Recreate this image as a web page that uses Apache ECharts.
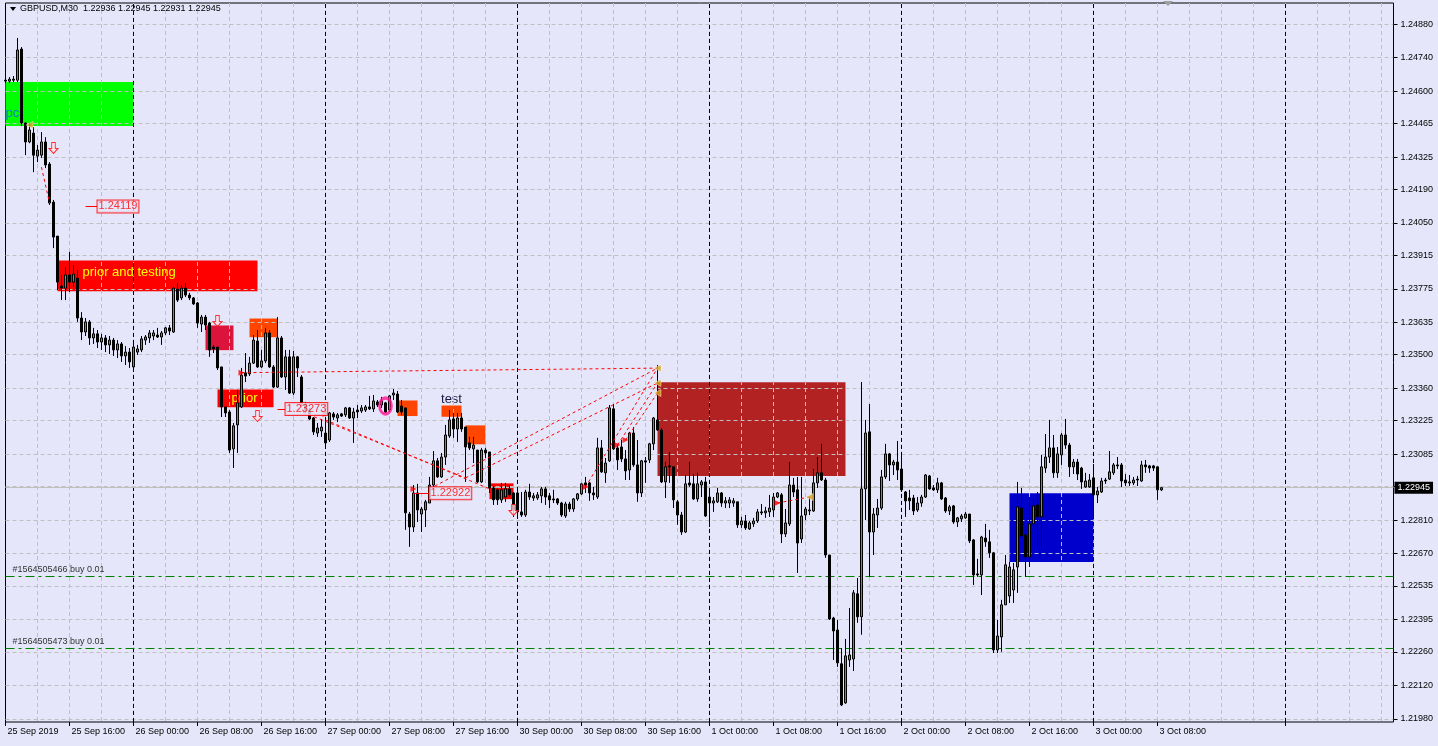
<!DOCTYPE html>
<html><head><meta charset="utf-8">
<script src="https://cdn.jsdelivr.net/npm/echarts@6/dist/echarts.min.js"></script>
<style>html,body{margin:0;padding:0;background:#E6E6FA;}#c{width:1438px;height:746px;}</style>
</head><body><div id="c"></div>
<script>
// ---------- data (GBPUSD M30, 25 Sep 08:00 .. 3 Oct 08:30) ----------
const opens = [
1.24646,1.24642,1.24650,1.24646,1.24776,1.24467,1.24388,1.24425,1.24329,1.24333,
1.24388,1.24296,1.24137,1.23995,1.23787,1.23778,1.23833,1.23803,1.23820,1.23653,
1.23595,1.23637,1.23570,1.23587,1.23553,1.23570,1.23541,1.23561,1.23520,1.23545,
1.23495,1.23511,1.23449,1.23511,1.23520,1.23561,1.23570,1.23578,1.23582,1.23574,
1.23591,1.23612,1.23595,1.23774,1.23737,1.23778,1.23749,1.23737,1.23716,1.23628,
1.23657,1.23632,1.23532,1.23532,1.23449,1.23282,1.23261,1.23107,1.23207,1.23282,
1.23424,1.23420,1.23465,1.23557,1.23449,1.23474,1.23591,1.23449,1.23365,1.23570,
1.23407,1.23491,1.23340,1.23491,1.23407,1.23294,1.23269,1.23236,1.23173,1.23182,
1.23173,1.23144,1.23253,1.23236,1.23253,1.23249,1.23278,1.23236,1.23269,1.23265,
1.23269,1.23282,1.23274,1.23303,1.23290,1.23299,1.23269,1.23332,1.23336,1.23286,
1.23278,1.22835,1.22781,1.22923,1.22835,1.22852,1.22881,1.22956,1.23057,1.22990,
1.23073,1.23161,1.23232,1.23190,1.23236,1.23198,1.23132,1.23107,1.23102,1.22969,
1.23102,1.23094,1.22944,1.22936,1.22894,1.22906,1.22940,1.22923,1.22923,1.22844,
1.22831,1.22927,1.22902,1.22902,1.22911,1.22940,1.22911,1.22898,1.22898,1.22881,
1.22827,1.22877,1.22856,1.22898,1.22919,1.22965,1.22965,1.22923,1.22906,1.23111,
1.23007,1.23057,1.23274,1.23111,1.23115,1.23065,1.23019,1.23173,1.23040,1.22923,
1.23057,1.23061,1.23128,1.23228,1.23186,1.22969,1.23036,1.23032,1.22886,1.22831,
1.22760,1.22965,1.22961,1.22898,1.22956,1.22969,1.22906,1.22881,1.22886,1.22923,
1.22881,1.22881,1.22881,1.22886,1.22790,1.22806,1.22773,1.22794,1.22806,1.22844,
1.22840,1.22844,1.22852,1.22906,1.22915,1.22752,1.22794,1.22956,1.22936,1.22731,
1.22831,1.22848,1.22848,1.22965,1.23007,1.22977,1.22664,1.22401,1.22351,1.22210,
1.22047,1.22226,1.22230,1.22502,1.22406,1.22940,1.23178,1.22760,1.22831,1.22860,
1.22990,1.23086,1.23040,1.23052,1.23023,1.22927,1.22902,1.22902,1.22852,1.22881,
1.22906,1.22994,1.22944,1.22936,1.22965,1.22902,1.22848,1.22869,1.22802,1.22815,
1.22819,1.22835,1.22727,1.22585,1.22581,1.22735,1.22719,1.22673,1.22268,1.22322,
1.22456,1.22493,1.22518,1.22614,1.22860,1.22748,1.22656,1.22794,1.22873,1.22823,
1.23027,1.23073,1.23111,1.23007,1.23082,1.23165,1.23123,1.23032,1.23052,1.23027,
1.22948,1.22948,1.22986,1.22915,1.22927,1.22977,1.22981,1.23007,1.23040,1.23040,
1.22977,1.22965,1.22965,1.22981,1.22973,1.23040,1.23036,1.23036,1.23032,1.22936];
const closes = [
1.24642,1.24650,1.24646,1.24772,1.24467,1.24388,1.24438,1.24333,1.24354,1.24388,
1.24292,1.24133,1.23991,1.23803,1.23778,1.23833,1.23803,1.23837,1.23653,1.23595,
1.23637,1.23570,1.23587,1.23553,1.23570,1.23541,1.23561,1.23520,1.23545,1.23495,
1.23511,1.23470,1.23532,1.23524,1.23566,1.23574,1.23591,1.23591,1.23574,1.23591,
1.23612,1.23599,1.23778,1.23728,1.23778,1.23749,1.23737,1.23712,1.23632,1.23657,
1.23624,1.23520,1.23524,1.23445,1.23282,1.23257,1.23102,1.23203,1.23299,1.23415,
1.23411,1.23465,1.23561,1.23449,1.23474,1.23591,1.23449,1.23365,1.23570,1.23407,
1.23491,1.23340,1.23491,1.23445,1.23299,1.23269,1.23232,1.23178,1.23194,1.23198,
1.23132,1.23257,1.23240,1.23249,1.23244,1.23278,1.23236,1.23261,1.23261,1.23278,
1.23282,1.23274,1.23307,1.23290,1.23307,1.23261,1.23328,1.23340,1.23261,1.23261,
1.22840,1.22781,1.22923,1.22852,1.22856,1.22886,1.22956,1.23057,1.22990,1.23073,
1.23165,1.23228,1.23190,1.23236,1.23190,1.23115,1.23111,1.23123,1.22969,1.23102,
1.23090,1.22944,1.22894,1.22894,1.22936,1.22940,1.22915,1.22852,1.22844,1.22831,
1.22927,1.22906,1.22911,1.22915,1.22940,1.22906,1.22894,1.22894,1.22881,1.22831,
1.22877,1.22856,1.22898,1.22919,1.22961,1.22956,1.22923,1.22915,1.23111,1.23011,
1.23048,1.23278,1.23107,1.23061,1.23065,1.23015,1.23173,1.23040,1.22923,1.23057,
1.23052,1.23128,1.23236,1.23186,1.22969,1.23032,1.23032,1.22894,1.22831,1.22760,
1.22961,1.22956,1.22898,1.22961,1.22969,1.22827,1.22881,1.22890,1.22923,1.22881,
1.22890,1.22894,1.22890,1.22790,1.22806,1.22777,1.22798,1.22806,1.22844,1.22840,
1.22848,1.22860,1.22906,1.22923,1.22752,1.22798,1.22956,1.22927,1.22714,1.22827,
1.22856,1.22852,1.22965,1.23007,1.22977,1.22664,1.22397,1.22347,1.22214,1.22038,
1.22243,1.22247,1.22506,1.22406,1.22940,1.23173,1.22760,1.22835,1.22860,1.22990,
1.23086,1.23040,1.23052,1.23019,1.22936,1.22890,1.22890,1.22848,1.22881,1.22906,
1.22998,1.22940,1.22936,1.22965,1.22898,1.22848,1.22865,1.22802,1.22819,1.22827,
1.22835,1.22723,1.22581,1.22581,1.22739,1.22719,1.22673,1.22268,1.22326,1.22456,
1.22623,1.22614,1.22602,1.22865,1.22744,1.22656,1.22794,1.22869,1.22823,1.23032,
1.23073,1.23111,1.23007,1.23086,1.23165,1.23123,1.23032,1.23052,1.23002,1.22969,
1.22973,1.22977,1.22915,1.22931,1.22973,1.22973,1.23011,1.23040,1.23036,1.22973,
1.22965,1.22969,1.22977,1.22977,1.23040,1.23032,1.23027,1.23027,1.22936,1.22945];
const lows = [
1.24634,1.24634,1.24638,1.24638,1.24454,1.24333,1.24383,1.24262,1.24304,1.24321,
1.24279,1.24125,1.23945,1.23770,1.23728,1.23728,1.23762,1.23783,1.23637,1.23561,
1.23578,1.23541,1.23545,1.23528,1.23520,1.23511,1.23503,1.23495,1.23486,1.23470,
1.23457,1.23445,1.23436,1.23499,1.23511,1.23541,1.23549,1.23561,1.23570,1.23541,
1.23582,1.23582,1.23591,1.23720,1.23728,1.23741,1.23728,1.23708,1.23612,1.23595,
1.23603,1.23491,1.23507,1.23436,1.23240,1.23240,1.23090,1.23027,1.23090,1.23278,
1.23386,1.23411,1.23461,1.23445,1.23445,1.23465,1.23445,1.23361,1.23361,1.23403,
1.23353,1.23336,1.23332,1.23407,1.23282,1.23257,1.23228,1.23165,1.23157,1.23157,
1.23123,1.23136,1.23228,1.23219,1.23240,1.23240,1.23232,1.23132,1.23236,1.23257,
1.23261,1.23269,1.23261,1.23282,1.23278,1.23257,1.23261,1.23311,1.23257,1.23249,
1.22769,1.22698,1.22760,1.22802,1.22760,1.22781,1.22881,1.22948,1.22986,1.22986,
1.23040,1.23153,1.23153,1.23136,1.23178,1.22969,1.23102,1.23048,1.22965,1.22965,
1.23069,1.22923,1.22873,1.22873,1.22881,1.22886,1.22906,1.22823,1.22823,1.22823,
1.22823,1.22894,1.22890,1.22894,1.22881,1.22873,1.22860,1.22881,1.22873,1.22823,
1.22819,1.22844,1.22844,1.22890,1.22915,1.22923,1.22890,1.22894,1.22898,1.23007,
1.22965,1.23052,1.23102,1.23019,1.23052,1.22977,1.22977,1.23032,1.22886,1.22906,
1.22965,1.23048,1.23102,1.23182,1.22965,1.22902,1.22965,1.22860,1.22790,1.22748,
1.22756,1.22948,1.22894,1.22886,1.22906,1.22823,1.22781,1.22844,1.22881,1.22865,
1.22860,1.22860,1.22865,1.22777,1.22777,1.22769,1.22769,1.22781,1.22798,1.22831,
1.22819,1.22823,1.22823,1.22902,1.22714,1.22739,1.22785,1.22906,1.22589,1.22714,
1.22810,1.22831,1.22844,1.22944,1.22973,1.22652,1.22393,1.22226,1.22197,1.22034,
1.22043,1.22197,1.22180,1.22381,1.22331,1.22810,1.22573,1.22664,1.22777,1.22852,
1.22981,1.22973,1.22998,1.22977,1.22927,1.22823,1.22852,1.22831,1.22844,1.22865,
1.22902,1.22936,1.22931,1.22923,1.22894,1.22840,1.22831,1.22794,1.22781,1.22802,
1.22815,1.22714,1.22539,1.22573,1.22497,1.22698,1.22652,1.22255,1.22255,1.22260,
1.22456,1.22464,1.22464,1.22506,1.22735,1.22573,1.22614,1.22777,1.22698,1.22698,
1.23007,1.23048,1.22986,1.22986,1.23040,1.23107,1.22990,1.23002,1.22977,1.22940,
1.22944,1.22944,1.22831,1.22881,1.22923,1.22961,1.22977,1.22998,1.23023,1.22948,
1.22952,1.22952,1.22956,1.22952,1.22969,1.23007,1.23007,1.23015,1.22894,1.22931];
const highs = [
1.24659,1.24659,1.24663,1.24822,1.24784,1.24471,1.24467,1.24450,1.24375,1.24429,
1.24408,1.24304,1.24146,1.23995,1.23833,1.23866,1.23929,1.23874,1.23854,1.23678,
1.23653,1.23645,1.23612,1.23603,1.23587,1.23582,1.23578,1.23570,1.23561,1.23553,
1.23536,1.23528,1.23545,1.23541,1.23578,1.23582,1.23603,1.23603,1.23612,1.23599,
1.23616,1.23624,1.23783,1.23799,1.23791,1.23799,1.23758,1.23741,1.23720,1.23666,
1.23666,1.23637,1.23541,1.23532,1.23449,1.23282,1.23269,1.23215,1.23353,1.23445,
1.23507,1.23491,1.23582,1.23603,1.23520,1.23612,1.23603,1.23457,1.23657,1.23578,
1.23520,1.23520,1.23516,1.23495,1.23415,1.23303,1.23278,1.23240,1.23215,1.23232,
1.23228,1.23261,1.23261,1.23257,1.23257,1.23282,1.23282,1.23278,1.23290,1.23290,
1.23290,1.23328,1.23332,1.23311,1.23324,1.23303,1.23332,1.23357,1.23349,1.23311,
1.23278,1.22844,1.22956,1.22961,1.22865,1.22894,1.22990,1.23098,1.23069,1.23090,
1.23207,1.23269,1.23257,1.23257,1.23257,1.23198,1.23157,1.23157,1.23102,1.23111,
1.23111,1.23094,1.22952,1.22944,1.22965,1.22965,1.22956,1.22927,1.22948,1.22927,
1.22936,1.22961,1.22923,1.22927,1.22948,1.22948,1.22923,1.22936,1.22902,1.22886,
1.22886,1.22886,1.22902,1.22923,1.22965,1.22990,1.22969,1.22948,1.23153,1.23144,
1.23069,1.23290,1.23294,1.23123,1.23144,1.23102,1.23178,1.23198,1.23144,1.23061,
1.23073,1.23132,1.23240,1.23457,1.23194,1.23052,1.23094,1.23032,1.22894,1.22844,
1.22998,1.23052,1.23002,1.23007,1.22977,1.22990,1.22944,1.22906,1.22944,1.22927,
1.22906,1.22906,1.22902,1.22886,1.22823,1.22831,1.22806,1.22819,1.22856,1.22877,
1.22865,1.22915,1.22923,1.22927,1.22923,1.22856,1.23052,1.22986,1.22990,1.22990,
1.22865,1.22906,1.23023,1.23073,1.23128,1.22986,1.22664,1.22406,1.22393,1.22276,
1.22314,1.22443,1.22518,1.22568,1.23386,1.23228,1.23294,1.22860,1.22898,1.23019,
1.23128,1.23090,1.23061,1.23140,1.23090,1.22931,1.22936,1.22915,1.22906,1.22915,
1.23002,1.22998,1.22956,1.22986,1.22969,1.22906,1.22873,1.22873,1.22823,1.22835,
1.22844,1.22835,1.22731,1.22648,1.22744,1.22794,1.22769,1.22677,1.22393,1.22477,
1.22664,1.22635,1.22631,1.22969,1.22944,1.22785,1.22906,1.22902,1.22927,1.23082,
1.23169,1.23228,1.23165,1.23115,1.23173,1.23232,1.23132,1.23065,1.23065,1.23032,
1.23007,1.23002,1.23044,1.22948,1.22986,1.22986,1.23098,1.23048,1.23073,1.23048,
1.23002,1.22998,1.22990,1.22994,1.23057,1.23061,1.23040,1.23040,1.23032,1.22945];

// price-axis tick labels
const yTicks = [1.21980,1.22120,1.22260,1.22395,1.22535,1.22670,1.22810,1.22950,1.23085,1.23225,1.23360,
                1.23500,1.23635,1.23775,1.23915,1.24050,1.24190,1.24325,1.24465,1.24600,1.24740,1.24880];
const yRange = [1.21967, 1.24968];

// time categories (weekend removed)
const dayNames = ['25 Sep','26 Sep','27 Sep','30 Sep','1 Oct','2 Oct','3 Oct','4 Oct'];
const totalSlots = 348;
const cats = [];
(function(){
  for (let d = 0; d < dayNames.length; d++) {
    for (let s = (d === 0 ? 16 : 0); s < 48; s++) {
      if (cats.length >= totalSlots) return;
      cats.push(dayNames[d] + ' ' + String(Math.floor(s / 2)).padStart(2, '0') + ':' + (s % 2 ? '30' : '00'));
    }
  }
})();

// chart objects (bar index, price)
const daySeparators = [32, 80, 128, 176, 224, 272, 320];
const zones = [      // [fromBar, toBar, topPrice, bottomPrice]
  [0, 32, 1.24638, 1.24455],
  [13, 63, 1.23893, 1.23765],
  [50, 57, 1.23622, 1.23519],
  [61, 68, 1.23651, 1.23573],
  [53, 67, 1.23355, 1.23281],
  [98, 103, 1.23309, 1.23244],
  [109, 114, 1.23288, 1.23241],
  [115, 120, 1.23205, 1.23126],
  [121, 127, 1.22963, 1.22897],
  [163, 210, 1.23385, 1.22994],
  [251, 272, 1.22922, 1.22635]
];
const zoneTexts = ['', 'prior and testing', '', '', 'prior', '', 'test', '', '', '', ''];
const buyOrders = [['#1564505466 buy 0.01', 1.22577], ['#1564505473 buy 0.01', 1.22275]];
const lastPrice = 1.22945;
const trendLines = [ // [fromBar, fromPrice, toBar, toPrice]
  [9, 1.24283, 11, 1.24133],
  [59, 1.23425, 163, 1.23444],
  [73, 1.23269, 115, 1.22986],
  [80, 1.23228, 121, 1.22940],
  [106, 1.22940, 163, 1.23444],
  [115, 1.22986, 163, 1.23382],
  [145, 1.22948, 163, 1.23444],
  [153, 1.23123, 163, 1.23382],
  [155, 1.23144, 163, 1.23340],
  [193, 1.22881, 201, 1.22906]
];
const priceTags = [[23, 1.24119, 20], [70, 1.23273, 68], [106, 1.22922, 102]]; // [bar, price, lineStartBar]
const downArrows = [[12, 1.24363], [53, 1.23641], [63, 1.23244], [127, 1.22852]];
const goldMarks = [[163, 1.23444], [163, 1.23382], [163, 1.23340], [6, 1.24459], [201, 1.22906]];
const redArrows = [[59, 1.23425], [80, 1.23253], [102, 1.22940], [145, 1.22948], [153, 1.23123], [155, 1.23144], [193, 1.22881]];
const ringMarks = [[95, 1.23286]];
const textMarks = [[0, 1.24509, 'pc']];
const titleText = 'GBPUSD,M30  1.22936 1.22945 1.22931 1.22945';

// ---------- styles ----------
const FONT = 'Liberation Sans';
const zoneColors = ['#00FF00','#FF0000','#DC143C','#FF4500','#FF0000','#FF4500','#FF4500','#FF4500','#FF0000','#B22222','#0000CD'];
const zoneLabelStyle = {
  'prior and testing': {position: 'insideLeft', distance: 25, offset: [0, -3], color: '#FFFF00', fontSize: 13},
  'prior': {position: 'insideLeft', distance: 14, color: '#FFFF00', fontSize: 13},
  'test': {position: 'top', distance: 0, color: '#1A1A40', fontSize: 13}
};

const candleData = opens.map((o, i) => [o, closes[i], lows[i], highs[i]]);

const chart = echarts.init(document.getElementById('c'), null, {renderer: 'canvas'});
chart.setOption({
  animation: false,
  backgroundColor: '#E6E6FA',
  grid: {left: 5.5, top: 3, width: 1388, height: 719, show: true, borderColor: '#000', borderWidth: 1, backgroundColor: '#E6E6FA'},
  graphic: [
    {type: 'polygon', shape: {points: [[10, 7], [16, 7], [13, 11]]}, style: {fill: '#000'}, z: 10},
    {type: 'text', left: 20, top: 4, z: 10, style: {text: titleText, font: '9px "' + FONT + '"', fill: '#000'}},
    {type: 'polygon', shape: {points: [[1163, 1], [1173, 1], [1168, 6]]}, style: {fill: '#A0A0A0'}, z: 10}
  ],
  xAxis: {
    type: 'category', data: cats, boundaryGap: false, z: 1,
    axisLine: {show: false},
    axisTick: {show: true, interval: (i) => i % 16 === 0 && (i <= 288 || i === 320), length: 4, lineStyle: {color: '#000'}},
    axisLabel: {show: true, interval: (i) => i % 16 === 0 && i <= 288, formatter: (v, i) => i === 0 ? '25 Sep 2019' : v,
      align: 'left', margin: 5, fontSize: 9, fontFamily: FONT, color: '#000', padding: [0, 0, 0, 2]},
    splitLine: {show: true, interval: (i) => i % 8 === 0 && i > 0, lineStyle: {color: '#C0C0C0', type: [4, 3], width: 1}}
  },
  yAxis: {
    type: 'value', position: 'right', min: yRange[0], max: yRange[1], z: 1,
    axisLine: {show: false},
    axisTick: {show: true, customValues: yTicks, length: 4, lineStyle: {color: '#000'}},
    axisLabel: {customValues: yTicks, formatter: (v) => v.toFixed(5), margin: 7, fontSize: 9, fontFamily: FONT, color: '#000'},
    splitLine: {show: true, lineStyle: {color: '#C0C0C0', type: [4, 3], width: 1}}
  },
  series: [
    {
      type: 'candlestick', name: 'GBPUSD', data: candleData, barWidth: 2, z: 2, clip: false,
      itemStyle: {color: '#808080', color0: '#000000', borderColor: '#000000', borderColor0: '#000000', borderWidth: 1},
      markArea: {
        silent: true, z: 0.5,
        data: zones.map((zn, k) => {
          const t = zoneTexts[k];
          const lab = t ? Object.assign({show: true, formatter: t, fontFamily: FONT}, zoneLabelStyle[t]) : {show: false};
          return [{coord: [zn[0], zn[2]], itemStyle: {color: zoneColors[k], opacity: 1}, label: lab}, {coord: [zn[1], zn[3]]}];
        })
      },
      markLine: {
        silent: true, z: 1.5, symbol: ['none', 'none'], animation: false, precision: 5,
        data: [].concat(
          daySeparators.map(d => ({xAxis: cats[d], lineStyle: {color: '#000', type: [4, 3], width: 1}, label: {show: false}})),
          buyOrders.map(b => ({yAxis: b[1], lineStyle: {color: '#008000', type: [9, 4, 3, 4], width: 1},
            label: {show: true, position: 'insideStartTop', formatter: b[0], color: '#333', fontSize: 9, fontFamily: FONT, distance: [7, 2]}})),
          [{yAxis: lastPrice, lineStyle: {color: '#C0C0C0', type: 'solid', width: 1},
            label: {show: true, position: 'end', formatter: lastPrice.toFixed(5), color: '#fff', backgroundColor: '#000',
              padding: [2, 3, 1, 3], fontSize: 9, fontFamily: FONT, distance: 1}}]
        )
      }
    },
    {
      type: 'line', name: 'objects', data: [], z: 5,
      markLine: {
        silent: true, z: 5, symbol: ['none', 'none'], animation: false, precision: 5, label: {show: false},
        data: [].concat(
          trendLines.map(t => [{coord: [t[0], t[1]], lineStyle: {color: '#FF0000', type: [3, 3], width: 1}}, {coord: [t[2], t[3]]}]),
          priceTags.map(t => [{coord: [t[2], t[1]], lineStyle: {color: '#FF0000', type: 'solid', width: 1}}, {coord: [t[0], t[1]]}])
        )
      }
    },
    {
      type: 'scatter', name: 'tags', z: 6, symbolSize: 0, silent: true, data: priceTags.map(t => [t[0], t[1]]),
      label: {show: true, position: 'right', distance: 0, formatter: p => p.value[1].toFixed(5), color: '#FF0000', fontSize: 11,
        fontFamily: FONT, borderColor: '#FF0000', borderWidth: 1, padding: [1, 1, 0, 1], backgroundColor: '#E6E6FA'}
    },
    {
      type: 'scatter', name: 'down', z: 6, silent: true, data: downArrows,
      symbol: 'path://M3,0 L7,0 L7,6 L10,6 L5,11 L0,6 L3,6 Z', symbolSize: [9, 11],
      itemStyle: {color: '#FFE4EC', borderColor: '#FF0000', borderWidth: 1}
    },
    {type: 'scatter', name: 'gold', z: 6, silent: true, data: goldMarks, symbol: 'triangle', symbolRotate: 90, symbolSize: 7,
      itemStyle: {color: '#DAA520', borderColor: '#FFFFFF', borderWidth: 0.5}},
    {type: 'scatter', name: 'red', z: 6, silent: true, data: redArrows, symbol: 'triangle', symbolRotate: -90, symbolSize: 6,
      itemStyle: {color: '#FF0000'}},
    {type: 'scatter', name: 'ring', z: 6, silent: true, data: ringMarks, symbol: 'circle', symbolSize: [12, 16],
      itemStyle: {color: 'rgba(0,0,0,0)', borderColor: '#FF1493', borderWidth: 3}},
    {type: 'scatter', name: 'text', z: 6, silent: true, symbolSize: 0, data: textMarks.map(t => [t[0], t[1]]),
      label: {show: true, position: 'right', distance: 0, formatter: p => textMarks[p.dataIndex][2], color: '#2050FF', fontSize: 13, fontFamily: FONT}}
  ]
});
</script></body></html>
